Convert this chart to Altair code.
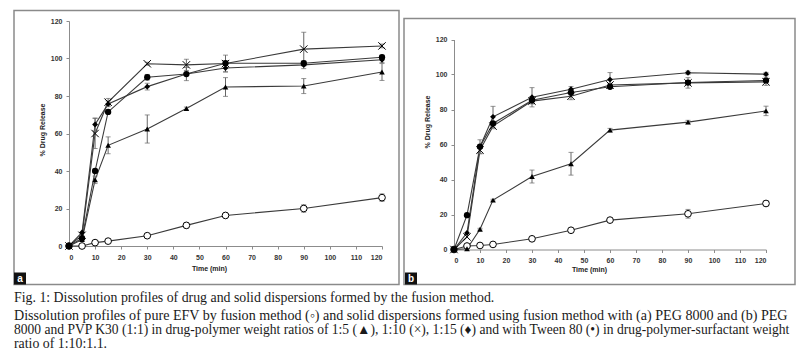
import altair as alt
import pandas as pd

TIMES = [0, 5, 10, 15, 30, 45, 60, 90, 120]
SERIES = ["EFV", "1:5", "1:10", "1:15", "Tween 80"]

# Panel (a): PEG 8000
A_EFV = [0, 0, 1.8, 2.6, 5.5, 11, 16.3, 20, 25.8]
A_EFV_ERR = [0, 0, 0, 0, 0, 1.5, 0.5, 2, 2]
A_R5 = [0, 3.4, 35.3, 53.7, 62.4, 73.3, 84.8, 85.3, 92.8]
A_R5_ERR = [0, 0, 2, 4.5, 7.5, 0.8, 5, 4, 4.5]
A_R10 = [0, 5.7, 60, 76.7, 97.2, 96.6, 97.3, 105, 106.7]
A_R10_ERR = [0, 0, 8, 2, 0.8, 3, 4.5, 9, 1]
A_R15 = [0, 7.2, 64.8, 75.8, 85, 91.7, 94.9, 96.6, 99.3]
A_R15_ERR = [0, 0, 3.5, 1.5, 1.8, 3.5, 2, 2, 1.5]
A_TW = [0, 4.2, 40, 71.5, 90, 91.7, 97.5, 97.5, 100.7]
A_TW_ERR = [0, 0, 1, 1, 1.5, 1, 1, 1, 1]

# Panel (b): PEG 8000 + PVP K30 (1:1)
B_EFV = [0, 2, 2.3, 2.9, 6.1, 11, 16.8, 20.4, 26.3]
B_EFV_ERR = [0, 0, 0, 0, 0.5, 0.5, 0.5, 2.5, 1.5]
B_R5 = [0, 0.4, 11.6, 28.2, 41.7, 49, 68.2, 72.8, 79.2]
B_R5_ERR = [0, 0, 0.5, 0.5, 3.7, 6.5, 1, 1, 2.7]
B_R10 = [0, 7.2, 56.8, 70.5, 84.8, 87.6, 94, 95.2, 95.8]
B_R10_ERR = [0, 0, 2, 1.5, 1.5, 2, 1, 3, 2]
B_R15 = [0, 9.5, 58.7, 75.8, 87, 91.6, 97.1, 101, 100.2]
B_R15_ERR = [0, 0, 4, 6, 5.5, 1.5, 4, 1, 1]
B_TW = [0, 19.6, 58.7, 72, 85.3, 89.7, 93, 95.4, 96.6]
B_TW_ERR = [0, 0, 1, 1, 2, 1.5, 1, 1, 1]

X_TICKS = list(range(0, 121, 10))
Y_TICKS = list(range(0, 121, 20))

CAPTION_1 = "Fig. 1: Dissolution profiles of drug and solid dispersions formed by the fusion method."
CAPTION_2 = ("Dissolution profiles of pure EFV by fusion method (\u25e6) and solid dispersions formed "
             "using fusion method with (a) PEG 8000 and (b) PEG")
CAPTION_3 = ("8000 and PVP K30 (1:1) in drug-polymer weight ratios of 1:5 (\u25b2), 1:10 (\u00d7), "
             "1:15 (\u2666) and with Tween 80 (\u2022) in drug-polymer-surfactant weight")
CAPTION_4 = "ratio of 1:10:1.1."


def build_df(values, errors):
    rows = []
    for s, ys, es in zip(SERIES, values, errors):
        for t, y, e in zip(TIMES, ys, es):
            rows.append({"t": t, "y": y, "err": e, "lo": y - e, "hi": y + e, "series": s})
    return pd.DataFrame(rows)


df_a = build_df([A_EFV, A_R5, A_R10, A_R15, A_TW],
                [A_EFV_ERR, A_R5_ERR, A_R10_ERR, A_R15_ERR, A_TW_ERR])
df_b = build_df([B_EFV, B_R5, B_R10, B_R15, B_TW],
                [B_EFV_ERR, B_R5_ERR, B_R10_ERR, B_R15_ERR, B_TW_ERR])

CROSS = "M-1,-1L1,1M-1,1L1,-1"
AXIS_FONT = "Liberation Sans"


def panel(df, width, height, y_range, frame, box, letter, xt_x, xt_y, yt_y):
    x_axis = alt.Axis(values=X_TICKS, title="Time (min)", titleX=xt_x, titleY=xt_y,
                      titleBaseline="middle", titleAlign="center", grid=False, labelOverlap=False)
    y_axis = alt.Axis(values=Y_TICKS, title="% Drug Release", grid=False, labelOverlap=False,
                      titleX=-27, titleY=yt_y, titleBaseline="middle", titleAlign="center",
                      titleAngle=270)
    x_scale = alt.Scale(domain=[0, 120], nice=False)
    y_scale = alt.Scale(domain=[0, 120], nice=False, range=y_range)

    def X(field):
        return alt.X(field, type="quantitative", scale=x_scale, axis=x_axis)

    def Y(field):
        return alt.Y(field, type="quantitative", scale=y_scale, axis=y_axis)

    base = alt.Chart(df)
    lines = base.mark_line(color="#3a3a3a", strokeWidth=1.1).encode(
        x=X("t"), y=Y("y"), detail="series:N", order="t:Q")
    eb = base.transform_filter("datum.err > 0.3")
    rules = eb.mark_rule(color="#666", strokeWidth=1).encode(x=X("t"), y=Y("lo"), y2="hi:Q")
    cap_lo = eb.mark_tick(color="#666", orient="horizontal", size=5, thickness=1).encode(
        x=X("t"), y=Y("lo"))
    cap_hi = eb.mark_tick(color="#666", orient="horizontal", size=5, thickness=1).encode(
        x=X("t"), y=Y("hi"))

    def pts(name, **kw):
        return base.transform_filter(alt.datum.series == name).mark_point(opacity=1, **kw).encode(
            x=X("t"), y=Y("y"))

    p_efv = pts("EFV", shape="circle", filled=True, fill="white", stroke="black", strokeWidth=1, size=45)
    p_r5 = pts("1:5", shape="triangle-up", filled=True, color="black", size=32)
    p_r10 = pts("1:10", shape=CROSS, filled=False, stroke="black", strokeWidth=1, size=55)
    p_r15 = pts("1:15", shape="diamond", filled=True, color="black", size=34)
    p_tw = pts("Tween 80", shape="circle", filled=True, color="black", size=40)

    one = alt.Chart(pd.DataFrame({"k": [0]}))
    fx1, fy1, fx2, fy2 = frame
    frame_r = one.mark_rect(fill="transparent", stroke="#8a8a8a", strokeWidth=1.5).encode(
        x=alt.value(fx1), x2=alt.value(fx2), y=alt.value(fy1), y2=alt.value(fy2))
    bx1, by1, bx2, by2 = box
    box_r = one.mark_rect(color="#111").encode(
        x=alt.value(bx1), x2=alt.value(bx2), y=alt.value(by1), y2=alt.value(by2))
    box_t = one.mark_text(text=letter, color="white", font=AXIS_FONT, fontSize=10, fontWeight="bold",
                          align="center", baseline="middle").encode(
        x=alt.value((bx1 + bx2) / 2), y=alt.value((by1 + by2) / 2 + 0.5))

    return alt.layer(frame_r, lines, rules, cap_lo, cap_hi,
                     p_efv, p_r5, p_r10, p_r15, p_tw, box_r, box_t).properties(width=width, height=height)


# both panels share the same plot-top origin (abs y 19.5); panel b's y range starts lower
panel_a = panel(df_a, 313, 225, [225, 0], (-55, -10.5, 330, 263.5), (-55, 251.5, -43, 263.5),
                "a", 140, 22, 108.5)
panel_b = panel(df_b, 312, 228.5, [228.5, 18.5], (-50, -2.5, 341, 263.5), (-49, 251.5, -37, 263.5),
                "b", 135, 20, 100.5)

one = alt.Chart(pd.DataFrame({"k": [0]}))
anchor = one.mark_rect(fill="white", opacity=0).encode(
    x=alt.value(-50), x2=alt.value(-49), y=alt.value(0), y2=alt.value(1))


def cap(text, y, size):
    return one.mark_text(text=text, font="Liberation Serif", fontSize=size, color="#1a1a1a",
                         align="left", baseline="middle").encode(x=alt.value(-55), y=alt.value(y))


caption = alt.layer(anchor, cap(CAPTION_1, 11, 13.85), cap(CAPTION_2, 28.5, 14.1),
                    cap(CAPTION_3, 42.5, 13.55), cap(CAPTION_4, 56.5, 13.85)).properties(width=700, height=50)

chart = alt.vconcat(
    alt.hconcat(panel_a, panel_b, spacing=1),
    caption,
    spacing=0,
).properties(
    padding={"left": 12, "top": 9, "right": 0, "bottom": 0},
    background="white",
).configure_view(stroke="transparent").configure_axis(
    domainColor="#8c8c8c", tickColor="#8c8c8c", tickSize=3, labelPadding=4,
    labelFont=AXIS_FONT, labelFontSize=7, labelFontWeight="bold", labelColor="#333",
    titleFont=AXIS_FONT, titleFontSize=7, titleFontWeight="bold", titleColor="#222",
)

chart.save("out.html", embed_options={"renderer": "svg", "actions": False})
